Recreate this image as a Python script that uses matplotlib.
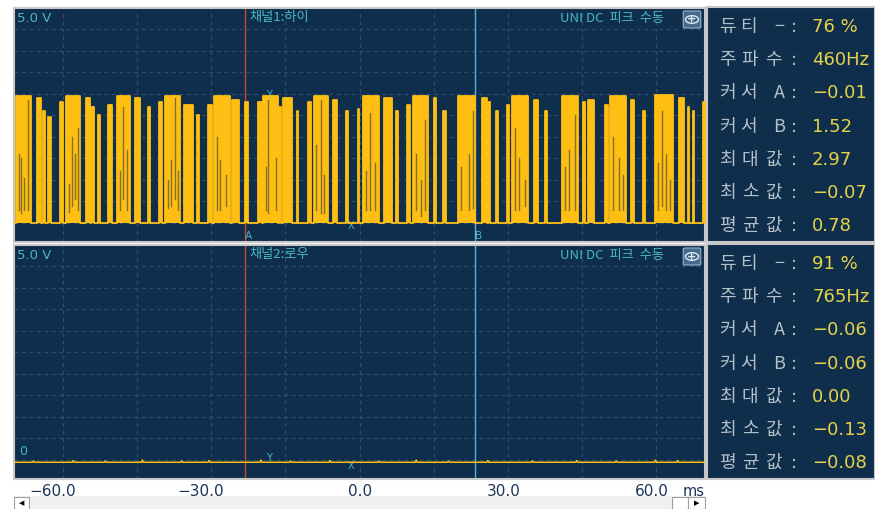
import numpy as np
import matplotlib.pyplot as plt
from matplotlib.patches import Rectangle, FancyBboxPatch, Circle

plt.rcParams['font.family'] = ['Noto Sans CJK KR', 'DejaVu Sans']

# channel 1 pulses: (start ms, end ms, top V)
ch1_pulses = [
    (-69.6, -66.5, 2.95), (-65.3, -64.5, 2.9), (-64.1, -63.7, 2.6), (-63.1, -62.5, 2.45),
    (-60.6, -60.0, 2.8), (-59.4, -56.6, 2.95), (-55.4, -54.6, 2.9), (-54.4, -53.8, 2.7),
    (-52.9, -52.5, 2.5), (-50.9, -50.1, 2.75), (-49.1, -46.5, 2.95), (-45.4, -44.4, 2.9),
    (-42.8, -42.4, 2.7), (-40.6, -40.0, 2.8), (-39.4, -36.3, 2.95), (-35.5, -33.7, 2.75),
    (-32.9, -32.5, 2.5), (-30.6, -29.8, 2.75), (-29.4, -26.2, 2.95), (-25.8, -24.5, 2.85),
    (-23.1, -22.5, 2.8), (-20.5, -19.7, 2.8), (-19.5, -16.6, 2.95), (-16.4, -16.0, 2.7),
    (-15.4, -13.6, 2.9), (-12.6, -12.4, 2.6), (-10.5, -9.9, 2.8), (-9.3, -6.3, 2.95),
    (-5.3, -4.5, 2.85), (-2.8, -2.4, 2.6), (-0.4, -0.2, 2.65), (0.8, 3.9, 2.95),
    (4.9, 6.5, 2.9), (7.3, 7.7, 2.6), (9.7, 10.3, 2.75), (10.8, 13.8, 2.95),
    (15.0, 15.6, 2.9), (17.0, 17.6, 2.6), (19.9, 23.5, 2.95), (24.9, 25.8, 2.9),
    (26.0, 26.4, 2.8), (27.6, 28.0, 2.6), (29.8, 30.2, 2.75), (30.8, 34.1, 2.95),
    (35.3, 36.1, 2.85), (37.5, 37.9, 2.6), (41.0, 44.2, 2.95), (45.2, 45.6, 2.8),
    (46.2, 47.5, 2.85), (49.7, 50.3, 2.75), (50.7, 54.0, 2.95), (55.0, 55.6, 2.85),
    (57.4, 57.8, 2.6), (59.8, 63.5, 2.97), (64.7, 65.7, 2.9), (66.5, 66.7, 2.7),
    (67.5, 67.7, 2.6), (69.6, 70.2, 2.8),
]
# darker streaks inside the bursts: (ms, low V, high V)
ch1_streaks = [
    (-69.0, 0.3, 1.6), (-68.6, 0.23, 1.5), (-68.0, 0.3, 1.05), (-67.1, 0.3, 2.85),
    (-58.9, 0.25, 0.9), (-58.3, 0.4, 2.0), (-57.6, 0.55, 1.6), (-57.0, 0.3, 2.2),
    (-48.6, 0.3, 1.2), (-47.9, 0.55, 2.7), (-47.1, 0.3, 1.7),
    (-38.9, 0.35, 1.0), (-38.1, 0.4, 1.45), (-37.3, 0.55, 2.9), (-36.8, 0.3, 1.2),
    (-28.8, 0.3, 2.0), (-28.2, 0.3, 1.45), (-27.0, 0.4, 1.1),
    (-19.0, 0.3, 1.3), (-18.5, 0.23, 2.85), (-17.0, 0.3, 1.5),
    (-8.8, 0.3, 1.8), (-7.9, 0.23, 2.85), (-7.1, 0.23, 1.1),
    (1.4, 0.3, 1.2), (2.2, 0.3, 2.55), (3.2, 0.3, 1.4),
    (11.5, 0.3, 1.6), (12.4, 0.15, 1.0), (13.2, 0.3, 2.4),
    (20.6, 0.3, 1.3), (22.1, 0.3, 1.6), (22.9, 0.35, 2.6),
    (31.5, 0.3, 2.2), (32.3, 0.3, 1.5), (33.5, 0.4, 1.0),
    (41.7, 0.3, 1.3), (42.4, 0.3, 1.7), (43.6, 0.3, 2.5),
    (51.4, 0.3, 2.0), (52.5, 0.3, 1.5), (53.4, 0.3, 1.1),
    (60.5, 0.3, 1.4), (61.2, 0.4, 2.6), (62.1, 0.3, 1.6), (62.9, 0.3, 1.0),
]
# channel 2 sits flat near -0.06 V with tiny blips
ch2_level = -0.06
ch2_blips = [(-66.0, 0.03), (-58.0, 0.04), (-51.5, 0.03), (-44.0, 0.05), (-36.0, 0.03),
             (-30.5, 0.04), (-20.0, 0.05), (-14.0, 0.03), (-6.0, 0.04), (4.0, 0.03),
             (11.5, 0.05), (18.0, 0.03), (26.0, 0.04), (35.0, 0.03), (44.0, 0.04),
             (52.0, 0.03), (60.0, 0.05), (64.5, 0.04)]

cursor_a, cursor_b = -23.1, 23.5
mark_y, mark_x = -18.3, -1.8

info_labels = ['듀티 −', '주파수', '커서 A', '커서 B', '최대값', '최소값', '평균값']
ch1_values = ['76 %', '460Hz', '−0.01', '1.52', '2.97', '−0.07', '0.78']
ch2_values = ['91 %', '765Hz', '−0.06', '−0.06', '0.00', '−0.13', '−0.08']
tick_ms = [-60, -30, 0, 30, 60]
tick_labels = ['−60.0', '−30.0', '0.0', '30.0', '60.0']

W, H = 875, 509
navy = '#0f2e4c'
grid_c = '#2c4d6e'
teal = '#4ab6c4'
gold = '#ffbf12'
ink = '#1c3458'

fig = plt.figure(figsize=(W / 100, H / 100), dpi=100)
fig.patch.set_facecolor('white')


def fx(px):
    return px / W


def fy(py):
    return 1 - py / H


def make_panel(top, bottom):
    ax = fig.add_axes([fx(14), fy(bottom), fx(705) - fx(14), fy(top) - fy(bottom)])
    ax.set_facecolor(navy)
    ax.set_xlim(-70, 70)
    ax.set_ylim(-0.45, 5.0)
    for x in range(-60, 61, 15):
        ax.axvline(x, color=grid_c, lw=0.9, ls=(0, (3, 3)), zorder=1)
    for y in np.arange(0, 4.6, 0.5):
        ax.axhline(y, color=grid_c, lw=0.9, ls=(0, (3, 3)), zorder=1)
    ax.set_xticks([])
    ax.set_yticks([])
    for s in ax.spines.values():
        s.set_color('#c8c8c8')
        s.set_linewidth(1.5)
    ax.axvline(cursor_a, color='#c9452f', lw=1.0, zorder=2)
    ax.axvline(cursor_b, color='#5aaee0', lw=1.0, zorder=2)
    return ax


ax1 = make_panel(8, 242)
ax2 = make_panel(245, 479)

# channel 1 waveform
t = [-70.0]
v = [0.0]
for a, b, h in ch1_pulses:
    t += [a, a, b, b]
    v += [0.0, h, h, 0.0]
t.append(70.0)
v.append(0.0)
ax1.fill_between(t, v, 0, color=gold, lw=0, zorder=3)
ax1.plot(t, v, color=gold, lw=1.3, zorder=4)
for s, lo, hi in ch1_streaks:
    ax1.plot([s, s], [lo, hi], color='#85702a', lw=1.0, zorder=5)

# channel 2 waveform
t2 = [-70.0]
v2 = [ch2_level]
for s, d in ch2_blips:
    t2 += [s - 0.2, s, s + 0.2]
    v2 += [ch2_level, ch2_level + d, ch2_level]
t2.append(70.0)
v2.append(ch2_level)
ax2.plot(t2, v2, color=gold, lw=1.1, zorder=4)

# time labels under the lower panel (right end ~12 px past each grid line)
for ms, lab in zip(tick_ms, tick_labels):
    ax2.annotate(lab, (ms, 0), xycoords=('data', 'axes fraction'), xytext=(13, -13),
                 textcoords='offset pixels', ha='right', va='center', fontsize=11,
                 color=ink, family='DejaVu Sans')
ax2.annotate('ms', (1.0, 0), xycoords='axes fraction', xytext=(0, -13),
             textcoords='offset pixels', ha='right', va='center', fontsize=10.5,
             color=ink, family='DejaVu Sans')

# panel headers and markers
for ax, name, top in [(ax1, '채널1:하이', 8), (ax2, '채널2:로우', 245)]:
    ax.text(0.005, 0.955, '5.0 V', transform=ax.transAxes, color=teal, fontsize=9.5,
            va='center', family='DejaVu Sans')
    ax.text(-22.4, 4.78, name, color=teal, fontsize=9.5, va='center')
    ax.text(0.94, 0.955, 'UNI DC  피크  수동', transform=ax.transAxes, color=teal,
            fontsize=9.5, va='center', ha='right')
    box = FancyBboxPatch((fx(685), fy(top + 19)), fx(14), fy(top + 4) - fy(top + 19),
                         boxstyle='round,pad=0.002', transform=fig.transFigure,
                         fc='#456a8e', ec='#9ab4c8', lw=0.8)
    fig.patches.append(box)
    c = Circle((fx(692), fy(top + 11.5)), 0.0075, transform=fig.transFigure,
               fc='none', ec='#e0e8f0', lw=1.0)
    fig.patches.append(c)
    fig.text(fx(692), fy(top + 11.5), '+', color='#e0e8f0', fontsize=8,
             ha='center', va='center', family='DejaVu Sans', weight='bold')

ax1.text(mark_y, 2.97, 'Y', color=teal, fontsize=7, ha='center', va='center', family='DejaVu Sans')
ax1.text(mark_x, -0.08, 'X', color=teal, fontsize=7, ha='center', va='center', family='DejaVu Sans')
ax1.text(cursor_a + 0.6, -0.32, 'A', color=teal, fontsize=7.5, ha='center', va='center', family='DejaVu Sans')
ax1.text(cursor_b + 0.6, -0.32, 'B', color=teal, fontsize=7.5, ha='center', va='center', family='DejaVu Sans')
ax2.text(mark_y, 0.05, 'Y', color=teal, fontsize=7, ha='center', va='center', family='DejaVu Sans')
ax2.text(mark_x, -0.15, 'X', color=teal, fontsize=7, ha='center', va='center', family='DejaVu Sans')
ax2.text(-69.0, 0.2, '0', color=teal, fontsize=9, va='center', family='DejaVu Sans')

# readout panels on the right
for top, bottom, vals in [(7, 242, ch1_values), (244, 479, ch2_values)]:
    fig.patches.append(Rectangle((fx(707), fy(bottom)), fx(W) - fx(707), fy(top) - fy(bottom),
                                 transform=fig.transFigure, fc=navy, ec='#c8c8c8', lw=1.5))
    for i, (lab, val) in enumerate(zip(info_labels, vals)):
        yy = fy(top + 20 + i * 33.2)
        if ' ' in lab:
            head, tail = lab.split(' ')
            parts = [(head[0], 727), (head[1], 748), (tail, 779)]
        else:
            parts = [(lab[0], 727), (lab[1], 750), (lab[2], 773)]
        for ch, px in parts:
            fig.text(fx(px), yy, ch, color='#b4c0c8', fontsize=13, va='center', ha='center')
        fig.text(fx(794), yy, ':', color='#b4c0c8', fontsize=13, va='center',
                 ha='center', family='DejaVu Sans')
        fig.text(fx(812), yy, val, color='#e6d24a', fontsize=13, va='center', family='DejaVu Sans')

# scroll bar
fig.patches.append(Rectangle((fx(14), 0), fx(705) - fx(14), fy(496), transform=fig.transFigure,
                             fc='#f0f0f0', ec='none'))
for x0, x1 in [(14, 29), (672, 688), (688, 705)]:
    fig.patches.append(Rectangle((fx(x0), 0), fx(x1) - fx(x0), fy(497), transform=fig.transFigure,
                                 fc='white', ec='#a0a0a0', lw=0.8))
fig.text(fx(21.5), fy(503), '◀', fontsize=5, ha='center', va='center', family='DejaVu Sans')
fig.text(fx(696.5), fy(503), '▶', fontsize=5, ha='center', va='center', family='DejaVu Sans')

fig.savefig('out.png', dpi=100, facecolor='white')
